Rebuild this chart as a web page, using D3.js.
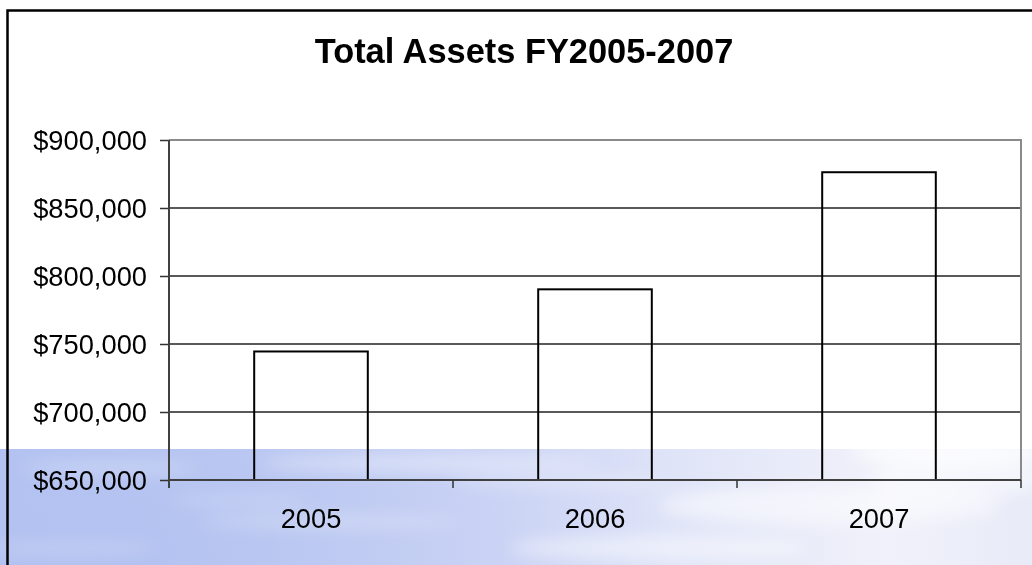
<!DOCTYPE html>
<html>
<head>
<meta charset="utf-8">
<script src="https://cdn.jsdelivr.net/npm/d3@7"></script>
<style>
  body { margin: 0; background: #fff; }
  svg { display: block; font-family: Arial, "Liberation Sans", sans-serif; }
</style>
</head>
<body>
<div class="viz"></div>
<script>
const w = 1032;
const h = 565;

// data
const years = ["2005", "2006", "2007"];
const assets = [744500, 790200, 876300];
const yTicks = [650000, 700000, 750000, 800000, 850000, 900000];
const title = "Total Assets FY2005-2007";

const plotLeft = 169, plotRight = 1021, plotTop = 140, plotBottom = 480;

const svg = d3.select(".viz")
    .append("svg")
    .attr("width", w)
    .attr("height", h);

// sky backdrop at the bottom of the slide
const defs = svg.append("defs");
const sky = defs.append("linearGradient")
    .attr("id", "sky")
    .attr("x1", 0).attr("x2", 1).attr("y1", 0).attr("y2", 0);
[["0%", "#b9c7f2"], ["25%", "#c4cef3"], ["50%", "#d2d9f6"], ["70%", "#e3e7f8"], ["86%", "#f0f1fa"], ["100%", "#e8ebf8"]]
    .forEach(s => sky.append("stop").attr("offset", s[0]).attr("stop-color", s[1]));
const glow = defs.append("radialGradient")
    .attr("id", "glow")
    .attr("gradientUnits", "userSpaceOnUse")
    .attr("cx", 150).attr("cy", 560).attr("r", 520);
glow.append("stop").attr("offset", "0%").attr("stop-color", "#a5b8ee").attr("stop-opacity", 0.45);
glow.append("stop").attr("offset", "100%").attr("stop-color", "#a5b8ee").attr("stop-opacity", 0);
defs.append("filter").attr("id", "blur")
    .attr("x", "-50%").attr("y", "-50%").attr("width", "200%").attr("height", "200%")
    .append("feGaussianBlur").attr("stdDeviation", 8);

svg.append("rect")
    .attr("x", 0).attr("y", 449)
    .attr("width", w).attr("height", h - 449)
    .attr("fill", "url(#sky)");
svg.append("rect")
    .attr("x", 0).attr("y", 449)
    .attr("width", w).attr("height", h - 449)
    .attr("fill", "url(#glow)");

const clouds = [
    [110, 468, 90, 6, 0.3], [430, 463, 170, 8, 0.4], [330, 522, 130, 7, 0.25],
    [660, 548, 150, 12, 0.45], [830, 505, 170, 20, 0.5], [960, 478, 90, 18, 0.5],
    [560, 482, 110, 6, 0.3], [70, 548, 90, 6, 0.2], [240, 500, 70, 5, 0.25],
    [960, 452, 110, 12, 0.8]
];
svg.append("g")
    .attr("filter", "url(#blur)")
    .selectAll("ellipse")
    .data(clouds)
    .enter()
    .append("ellipse")
    .attr("cx", d => d[0]).attr("cy", d => d[1])
    .attr("rx", d => d[2]).attr("ry", d => d[3])
    .attr("fill", "#ffffff")
    .attr("opacity", d => d[4]);

// slide frame
svg.append("rect")
    .attr("x", 7.5).attr("y", 10.5)
    .attr("width", 1100).attr("height", 700)
    .attr("fill", "none")
    .attr("stroke", "#000")
    .attr("stroke-width", 2.5);

svg.append("text")
    .attr("x", 524)
    .attr("y", 63)
    .attr("text-anchor", "middle")
    .attr("font-size", 34.4)
    .attr("font-weight", "bold")
    .text(title);

const x = d3.scaleBand()
    .domain(years)
    .range([plotLeft, plotRight]);

const y = d3.scaleLinear()
    .domain([650000, 900000])
    .range([plotBottom, plotTop]);

// gridlines
svg.append("g")
    .selectAll("line")
    .data(yTicks.slice(1, -1))
    .enter()
    .append("line")
    .attr("x1", plotLeft).attr("x2", plotRight)
    .attr("y1", d => y(d)).attr("y2", d => y(d))
    .attr("stroke", "#222")
    .attr("stroke-width", 1.3);

// plot frame top/right
svg.append("path")
    .attr("d", `M${plotLeft},${plotTop}H${plotRight}V${plotBottom}`)
    .attr("fill", "none")
    .attr("stroke", "#8a8a8a")
    .attr("stroke-width", 2);

// bars
svg.selectAll("rect.bar")
    .data(years)
    .enter()
    .append("rect")
    .attr("class", "bar")
    .attr("x", (d) => x(d) + x.bandwidth() * 0.3)
    .attr("width", x.bandwidth() * 0.4)
    .attr("y", (d, i) => y(assets[i]))
    .attr("height", (d, i) => plotBottom - y(assets[i]))
    .attr("fill", "none")
    .attr("stroke", "#000")
    .attr("stroke-width", 2);

// y axis
const yAxis = svg.append("g")
    .attr("transform", `translate(${plotLeft},0)`)
    .call(d3.axisLeft(y)
        .tickValues(yTicks)
        .tickFormat(d => "$" + d3.format(",")(d))
        .tickSize(9)
        .tickPadding(13));
yAxis.select(".domain").remove();
yAxis.selectAll(".tick line").attr("stroke", "#333").attr("stroke-width", 1.5);
yAxis.selectAll("text")
    .attr("font-family", "Arial, 'Liberation Sans', sans-serif")
    .attr("font-size", 27.3)
    .attr("fill", "#000")
    .attr("dy", "0.35em");
yAxis.append("line")
    .attr("y1", plotTop).attr("y2", plotBottom + 8)
    .attr("stroke", "#404040")
    .attr("stroke-width", 2);

// x axis
const xAxis = svg.append("g")
    .attr("transform", `translate(0,${plotBottom})`)
    .call(d3.axisBottom(x).tickSize(0).tickPadding(29));
xAxis.select(".domain").remove();
xAxis.selectAll("text")
    .attr("font-family", "Arial, 'Liberation Sans', sans-serif")
    .attr("font-size", 27.3)
    .attr("fill", "#000");
xAxis.append("line")
    .attr("x1", plotLeft).attr("x2", plotRight)
    .attr("stroke", "#404040")
    .attr("stroke-width", 2);
xAxis.selectAll("line.bound")
    .data(years)
    .enter()
    .append("line")
    .attr("class", "bound")
    .attr("x1", d => x(d) + x.bandwidth())
    .attr("x2", d => x(d) + x.bandwidth())
    .attr("y1", 0).attr("y2", 8)
    .attr("stroke", "#333")
    .attr("stroke-width", 1.5);
</script>
</body>
</html>
